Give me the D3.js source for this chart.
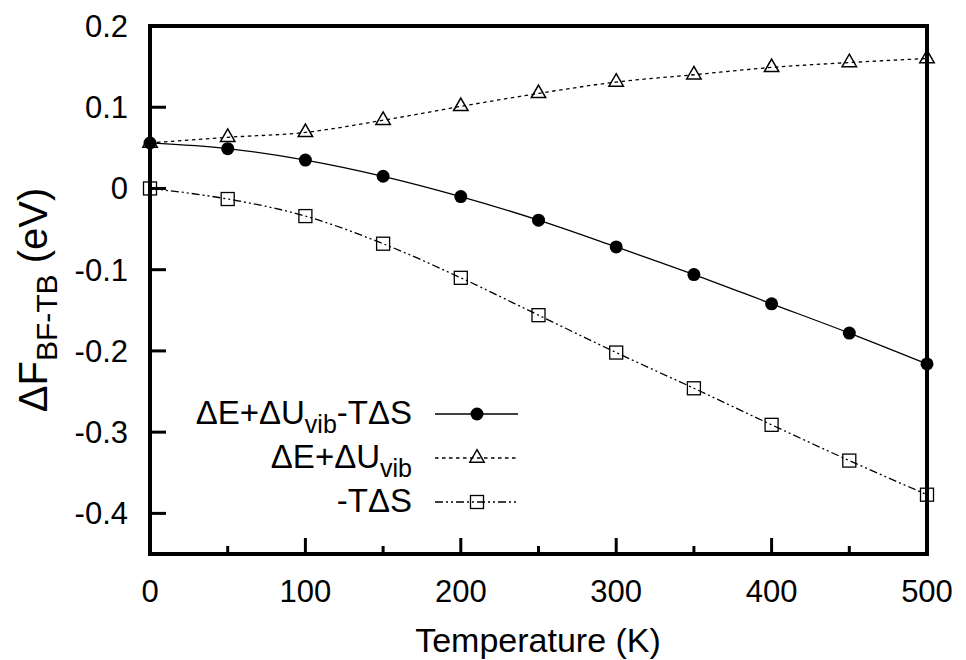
<!DOCTYPE html>
<html>
<head>
<meta charset="utf-8">
<script src="https://cdn.jsdelivr.net/npm/d3@7"></script>
<style>
  body { margin: 0; background: #fff; }
  text { font-family: "Liberation Sans", Arial, sans-serif; fill: #000; }
</style>
</head>
<body>
<div id="chart"></div>
<script>
// Data
const temps = [0, 50, 100, 150, 200, 250, 300, 350, 400, 450, 500];
const totalF = [0.056, 0.049, 0.035, 0.015, -0.010, -0.039, -0.072, -0.106, -0.142, -0.178, -0.216];
const energyU = [0.056, 0.063, 0.069, 0.084, 0.101, 0.117, 0.131, 0.140, 0.149, 0.155, 0.160];
const entropyT = [0.000, -0.013, -0.034, -0.068, -0.110, -0.156, -0.202, -0.246, -0.291, -0.335, -0.377];
const xTicks = [0, 100, 200, 300, 400, 500];
const xMinor = [50, 150, 250, 350, 450];
const yTicks = [0.2, 0.1, 0, -0.1, -0.2, -0.3, -0.4];

const width = 966, height = 660;
const margin = {top: 26, left: 150, right: 39, bottom: 106};

const svg = d3.select("#chart").append("svg")
    .attr("width", width)
    .attr("height", height);

const x = d3.scaleLinear().domain([0, 500]).range([margin.left, width - margin.right]);
const y = d3.scaleLinear().domain([-0.45, 0.2]).range([height - margin.bottom, margin.top]);

// ticks drawn inward
const tickFont = "31px";
svg.append("g")
    .selectAll("line")
    .data(xTicks)
    .join("line")
        .attr("x1", d => x(d)).attr("x2", d => x(d))
        .attr("y1", y(-0.45)).attr("y2", y(-0.45) - 16)
        .attr("stroke", "#000").attr("stroke-width", 3);
svg.append("g")
    .selectAll("line")
    .data(xMinor)
    .join("line")
        .attr("x1", d => x(d)).attr("x2", d => x(d))
        .attr("y1", y(-0.45)).attr("y2", y(-0.45) - 8)
        .attr("stroke", "#000").attr("stroke-width", 3);
svg.append("g")
    .selectAll("line")
    .data(yTicks)
    .join("line")
        .attr("x1", x(0)).attr("x2", x(0) + 16)
        .attr("y1", d => y(d)).attr("y2", d => y(d))
        .attr("stroke", "#000").attr("stroke-width", 3);

svg.append("g")
    .selectAll("text")
    .data(xTicks)
    .join("text")
        .attr("x", d => x(d))
        .attr("y", 602)
        .attr("text-anchor", "middle")
        .style("font-size", tickFont)
        .text(d => d);
svg.append("g")
    .selectAll("text")
    .data(yTicks)
    .join("text")
        .attr("x", 128)
        .attr("y", d => y(d) + 11)
        .attr("text-anchor", "end")
        .style("font-size", tickFont)
        .text(d => d);

// series
const series = [
    {name: "total", values: totalF, dash: null, marker: "circle"},
    {name: "energy", values: energyU, dash: "3.5,3.5", marker: "triangle"},
    {name: "entropy", values: entropyT, dash: "8,3,2,3,2,3", marker: "square"}
];

const line = d3.line()
    .x((d, i) => x(temps[i]))
    .y(d => y(d))
    .curve(d3.curveMonotoneX);

function drawMarker(g, type, cx, cy) {
    if (type === "circle") {
        g.append("circle").attr("cx", cx).attr("cy", cy).attr("r", 6.5).attr("fill", "#000");
    } else if (type === "triangle") {
        const s = d3.symbol().type(d3.symbolTriangle).size(90);
        g.append("path").attr("d", s()).attr("transform", `translate(${cx},${cy})`)
            .attr("fill", "none").attr("stroke", "#000").attr("stroke-width", 1.5);
    } else {
        g.append("rect").attr("x", cx - 6.5).attr("y", cy - 6.5).attr("width", 13).attr("height", 13)
            .attr("fill", "none").attr("stroke", "#000").attr("stroke-width", 1.3);
    }
}

series.forEach(s => {
    svg.append("path")
        .datum(s.values)
        .attr("d", line)
        .attr("fill", "none")
        .attr("stroke", "#000")
        .attr("stroke-width", 1.3)
        .attr("stroke-dasharray", s.dash);
    const g = svg.append("g");
    s.values.forEach((v, i) => drawMarker(g, s.marker, x(temps[i]), y(v)));
});

// frame
svg.append("rect")
    .attr("x", x(0)).attr("y", y(0.2))
    .attr("width", x(500) - x(0)).attr("height", y(-0.45) - y(0.2))
    .attr("fill", "none").attr("stroke", "#000").attr("stroke-width", 4);

// legend
const legendRows = [414, 458, 502];
const legendFont = "33px", subFont = "25px";
const lg = svg.append("g");
const labels = [
    [["ΔE+ΔU", 0], ["vib", 1], ["-TΔS", 2]],
    [["ΔE+ΔU", 0], ["vib", 1]],
    [["-TΔS", 0]]
];
labels.forEach((parts, r) => {
    const t = lg.append("text")
        .attr("x", 412).attr("y", legendRows[r] + 10)
        .attr("text-anchor", "end")
        .style("font-size", legendFont);
    parts.forEach(([txt, kind]) => {
        const sp = t.append("tspan").text(txt);
        if (kind === 1) sp.attr("dy", 9).style("font-size", subFont);
        if (kind === 2) sp.attr("dy", -9);
    });
    const s = series[r];
    lg.append("line")
        .attr("x1", 435).attr("x2", 518)
        .attr("y1", legendRows[r]).attr("y2", legendRows[r])
        .attr("stroke", "#000").attr("stroke-width", 1.3)
        .attr("stroke-dasharray", s.dash);
    drawMarker(lg, s.marker, 477, legendRows[r]);
});

// axis titles
svg.append("text")
    .attr("x", 538).attr("y", 652)
    .attr("text-anchor", "middle")
    .style("font-size", "34px")
    .text("Temperature (K)");

const yl = svg.append("text")
    .attr("transform", "translate(47,300) rotate(-90)")
    .attr("text-anchor", "middle")
    .style("font-size", "40px");
yl.append("tspan").text("ΔF");
yl.append("tspan").attr("dy", 10).style("font-size", "30px").text("BF-TB");
yl.append("tspan").attr("dy", -10).text(" (eV)");
</script>
</body>
</html>
